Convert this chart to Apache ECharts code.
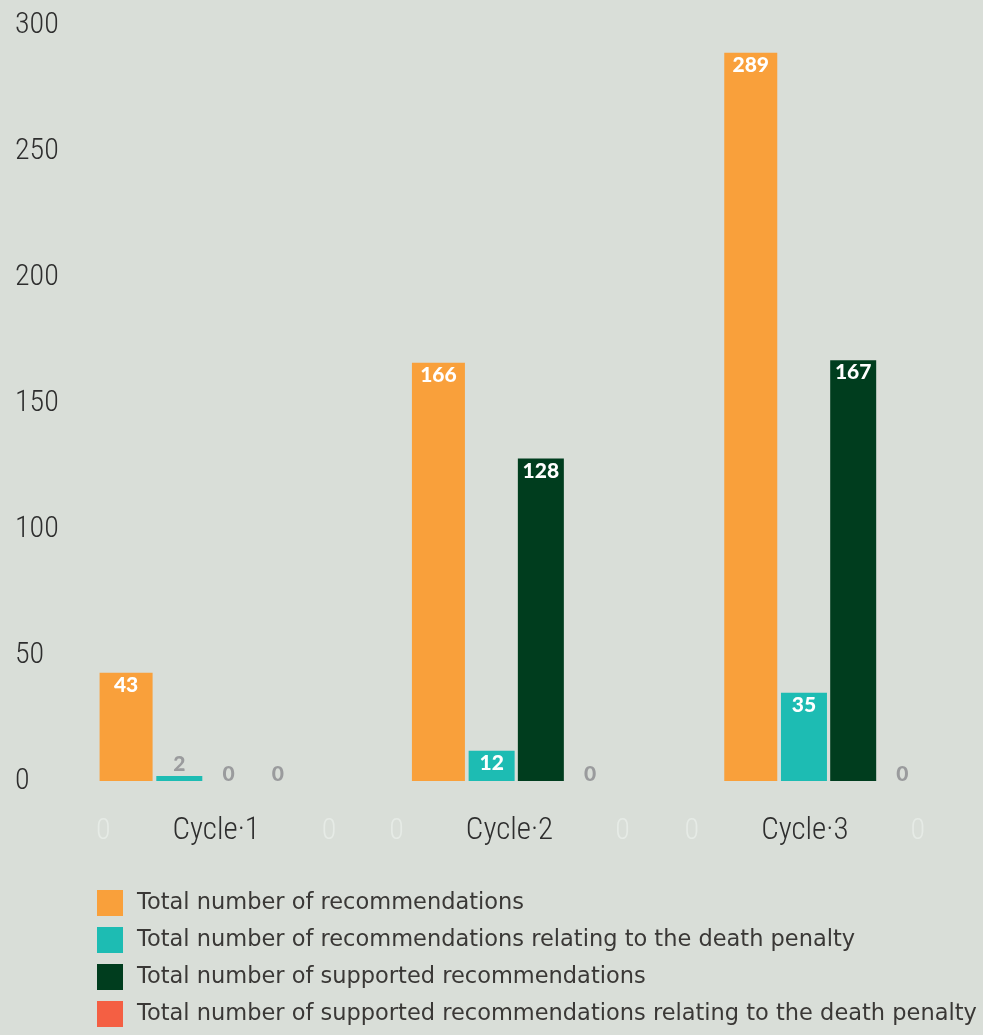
<!DOCTYPE html>
<html><head><meta charset="utf-8">
<script src="https://cdn.jsdelivr.net/npm/echarts@6/dist/echarts.min.js"></script>
<style>html,body{margin:0;padding:0;background:#d9ded8}#c{width:983px;height:1035px}</style>
</head><body><div id="c"></div>
<script>
var categories = ['Cycle·1', 'Cycle·2', 'Cycle·3'];
var seriesNames = [
  'Total number of recommendations',
  'Total number of recommendations relating to the death penalty',
  'Total number of supported recommendations',
  'Total number of supported recommendations relating to the death penalty'
];
var totalRecs = [43, 166, 289];
var deathPenaltyRecs = [2, 12, 35];
var supportedRecs = [0, 128, 167];
var supportedDeathPenaltyRecs = [0, 0, 0];
var yTicks = [0, 50, 100, 150, 200, 250, 300];

var colors = ['#f9a03b', '#1dbcb3', '#003d1e', '#f45f43'];
var allValues = [totalRecs, deathPenaltyRecs, supportedRecs, supportedDeathPenaltyRecs];
var condensed = "'Roboto Condensed', 'Liberation Sans Narrow', 'DejaVu Sans Condensed', sans-serif";
// horizontal nudge of each category label (px) to follow the reference layout
var labelShift = [16, -3, -20];

function buildData(vals) {
  return vals.map(function (v) {
    if (v < 5) {
      return { value: v, label: { show: true, position: 'top', distance: v === 0 ? -4 : 1, color: '#9a9b9d' } };
    }
    return { value: v, label: { show: true, position: 'insideTop', distance: 2, color: '#ffffff' } };
  });
}

var series = allValues.map(function (vals, i) {
  return {
    name: seriesNames[i],
    type: 'bar',
    barWidth: i === 0 ? 53 : 46,
    barGap: '7%',
    itemStyle: { color: colors[i] },
    label: { show: true, fontFamily: 'Lato', fontWeight: 900, fontSize: 21 },
    data: buildData(vals)
  };
});

var chart = echarts.init(document.getElementById('c'));
chart.setOption({
  backgroundColor: '#d9ded8',
  animation: false,
  grid: { left: 44, right: 2, top: 25, bottom: 254, containLabel: false },
  xAxis: {
    type: 'category',
    data: categories,
    axisLine: { show: false },
    axisTick: { show: false },
    axisLabel: {
      margin: 35,
      formatter: function (v, idx) {
        return '{p' + idx + 'l|}{g|0}{s|}{t|' + v + '}{s|}{g|0}{p' + idx + 'r|}';
      },
      rich: {
        g: { fontFamily: condensed, fontWeight: 300, fontSize: 30, color: '#e6ebe6' },
        s: { width: 62 },
        t: { fontFamily: condensed, fontWeight: 300, fontSize: 31, color: '#2e2e2e' },
        p0l: { width: 2 * labelShift[0] }, p0r: { width: 0 },
        p1l: { width: 0 }, p1r: { width: -2 * labelShift[1] },
        p2l: { width: 0 }, p2r: { width: -2 * labelShift[2] }
      }
    }
  },
  yAxis: {
    type: 'value',
    min: 0, max: 300, interval: 50,
    axisLine: { show: false },
    axisTick: { show: false },
    splitLine: { show: false },
    axisLabel: {
      align: 'left', margin: 29,
      padding: [0, 0, 7, 0],
      fontFamily: condensed, fontWeight: 300, fontSize: 30, color: '#2e2e2e',
      formatter: function (v) { return yTicks.indexOf(v) >= 0 ? String(v) : ''; }
    }
  },
  legend: {
    orient: 'vertical',
    left: 97, top: 890, padding: 0,
    itemWidth: 26, itemHeight: 26, itemGap: 11,
    icon: 'rect',
    textStyle: { fontFamily: 'DejaVu Sans', fontSize: 22.5, color: '#3a3836', padding: [0, 0, 0, 9] },
    data: seriesNames
  },
  series: series
});
</script></body></html>
